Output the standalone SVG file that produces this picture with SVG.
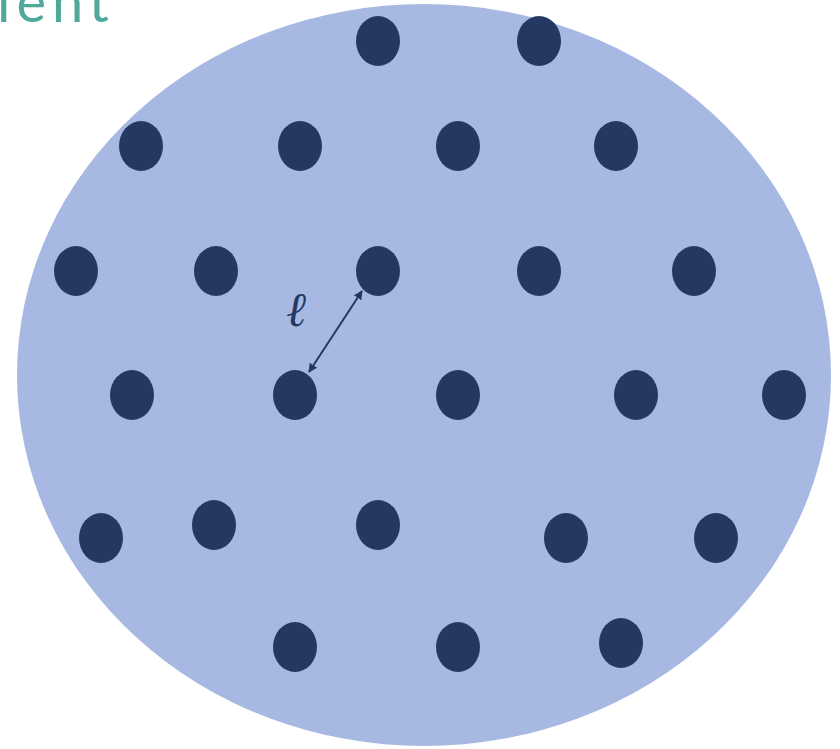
<svg xmlns="http://www.w3.org/2000/svg" width="840" height="749" viewBox="0 0 840 749">
<defs>
<style>
.dot{fill:#243862}
.lbl{font-family:"DejaVu Serif","Liberation Serif",serif;font-style:italic;fill:#243862}
.conn{stroke:#243862;stroke-width:2;fill:none}
</style>
<marker id="ah" viewBox="0 0 10 10" refX="9" refY="5" markerWidth="9" markerHeight="9" orient="auto-start-reverse" markerUnits="userSpaceOnUse">
<path d="M0,0 L10,5 L0,10 z" fill="#243862"/>
</marker>
</defs>
<rect width="840" height="749" fill="#ffffff"/>
<text x="-3" y="22" font-family="Lato,'Noto Sans',sans-serif" font-size="56" letter-spacing="6" fill="#4fa99a">ient</text>
<ellipse id="cell" cx="424" cy="375" rx="407" ry="371" fill="#a7b9e2"/>
<g id="dots">
<ellipse class="dot" cx="378" cy="41" rx="22" ry="25"/>
<ellipse class="dot" cx="539" cy="41" rx="22" ry="25"/>
<ellipse class="dot" cx="141" cy="146" rx="22" ry="25"/>
<ellipse class="dot" cx="300" cy="146" rx="22" ry="25"/>
<ellipse class="dot" cx="458" cy="146" rx="22" ry="25"/>
<ellipse class="dot" cx="616" cy="146" rx="22" ry="25"/>
<ellipse class="dot" cx="76" cy="271" rx="22" ry="25"/>
<ellipse class="dot" cx="216" cy="271" rx="22" ry="25"/>
<ellipse class="dot" cx="378" cy="271" rx="22" ry="25"/>
<ellipse class="dot" cx="539" cy="271" rx="22" ry="25"/>
<ellipse class="dot" cx="694" cy="271" rx="22" ry="25"/>
<ellipse class="dot" cx="132" cy="395" rx="22" ry="25"/>
<ellipse class="dot" cx="295" cy="395" rx="22" ry="25"/>
<ellipse class="dot" cx="458" cy="395" rx="22" ry="25"/>
<ellipse class="dot" cx="636" cy="395" rx="22" ry="25"/>
<ellipse class="dot" cx="784" cy="395" rx="22" ry="25"/>
<ellipse class="dot" cx="101" cy="538" rx="22" ry="25"/>
<ellipse class="dot" cx="214" cy="525" rx="22" ry="25"/>
<ellipse class="dot" cx="378" cy="525" rx="22" ry="25"/>
<ellipse class="dot" cx="566" cy="538" rx="22" ry="25"/>
<ellipse class="dot" cx="716" cy="538" rx="22" ry="25"/>
<ellipse class="dot" cx="295" cy="647" rx="22" ry="25"/>
<ellipse class="dot" cx="458" cy="647" rx="22" ry="25"/>
<ellipse class="dot" cx="621" cy="643" rx="22" ry="25"/>
</g>
<g id="connectors">
<line class="conn" x1="362" y1="291" x2="309" y2="372" marker-start="url(#ah)" marker-end="url(#ah)"/>
</g>
<text class="lbl" x="286" y="326" font-size="48">ℓ</text>
</svg>
